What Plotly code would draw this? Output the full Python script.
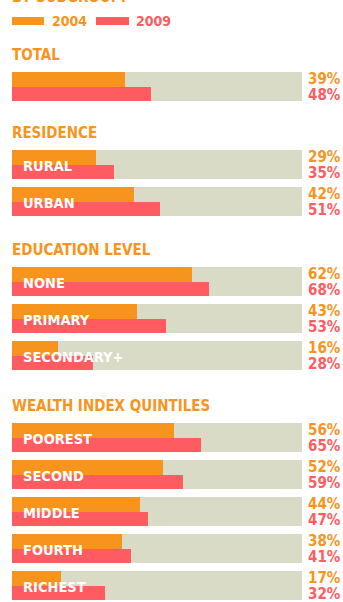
import plotly.graph_objects as go

# ---- data -------------------------------------------------------------
groups = ["TOTAL", "RESIDENCE", "EDUCATION LEVEL", "WEALTH INDEX QUINTILES"]
categories = [
    [""],
    ["RURAL", "URBAN"],
    ["NONE", "PRIMARY", "SECONDARY+"],
    ["POOREST", "SECOND", "MIDDLE", "FOURTH", "RICHEST"],
]
values_2004 = [[39], [29, 42], [62, 43, 16], [56, 52, 44, 38, 17]]
values_2009 = [[48], [35, 51], [68, 53, 28], [65, 59, 47, 41, 32]]
years = ["2004", "2009"]

# ---- style ------------------------------------------------------------
ORANGE = "#F7941D"
RED = "#FF5C61"
TRACK = "#DADBC6"
FONT = "DejaVu Sans Condensed, Liberation Sans Narrow, Arial Narrow, sans-serif"
W, H = 343, 602
X0, XSPAN = 12, 290          # pixel start of the 0% line and width of 100%
ROW_H, ROW_STEP = 29, 37     # track height and row pitch
HALF = ROW_H / 2
group_header_y = [55, 133, 250, 406]

def px_to_x(p):
    return (p - X0) / XSPAN * 100

# ---- layout of rows ---------------------------------------------------
rows = []  # (label, v04, v09, track_top)
for g, hy in enumerate(group_header_y):
    for i, cat in enumerate(categories[g]):
        top = hy + 17 + i * ROW_STEP
        rows.append((cat, values_2004[g][i], values_2009[g][i], top))

tops = [r[3] for r in rows]
v04 = [r[1] for r in rows]
v09 = [r[2] for r in rows]

fig = go.Figure()
fig.add_trace(go.Bar(
    orientation="h", x=[100] * len(rows), y=[t + HALF for t in tops],
    width=ROW_H, marker=dict(color=TRACK, line=dict(width=0)),
    hoverinfo="skip", showlegend=False))
fig.add_trace(go.Bar(
    orientation="h", x=v04, y=[t + HALF / 2 for t in tops],
    width=HALF, marker=dict(color=ORANGE, line=dict(width=0)),
    name=years[0], showlegend=False))
fig.add_trace(go.Bar(
    orientation="h", x=v09, y=[t + HALF * 1.5 for t in tops],
    width=HALF, marker=dict(color=RED, line=dict(width=0)),
    name=years[1], showlegend=False))

ann = []
shapes = []

# section headers
for g, hy in enumerate(group_header_y):
    ann.append(dict(x=10 / W, y=hy, xref="paper", yref="y", text=f"<b>{groups[g]}</b>",
                    xanchor="left", yanchor="middle", showarrow=False,
                    font=dict(family=FONT, size=15, color=ORANGE)))

# row labels and value labels (value boxes kept compact so the pair stacks tightly)
for cat, a, b, top in rows:
    if cat:
        ann.append(dict(x=21 / W, y=top + 16, xref="paper", yref="y", text=f"<b>{cat}</b>",
                        xanchor="left", yanchor="middle", showarrow=False,
                        font=dict(family=FONT, size=14.5, color="white")))
    for val, dy, col in [(a, 7, ORANGE), (b, 23, RED)]:
        ann.append(dict(x=1, y=top + dy, xref="paper", yref="y", text=f"<b>{val}%</b>",
                        xanchor="right", yanchor="middle", xshift=-1, showarrow=False,
                        height=14, borderpad=0, valign="middle",
                        font=dict(family=FONT, size=15, color=col)))

# legend swatches
for (x0, x1, tx, col, yr) in [(12, 44, 50, ORANGE, years[0]), (96, 129, 134, RED, years[1])]:
    shapes.append(dict(type="rect", xref="x", yref="y", x0=px_to_x(x0), x1=px_to_x(x1),
                       y0=17, y1=25, fillcolor=col, line=dict(width=0)))
    ann.append(dict(x=tx / W, y=21, xref="paper", yref="y", text=f"<b>{yr}</b>",
                    xanchor="left", yanchor="middle", showarrow=False,
                    font=dict(family=FONT, size=14, color=col)))

# chart title (runs above the top edge)
ann.append(dict(x=10 / W, y=8, xref="paper", yref="y", text="<b>BY SUBGROUP:</b>",
                xanchor="left", yanchor="bottom", showarrow=False,
                font=dict(family=FONT, size=15, color=ORANGE)))

fig.update_layout(
    width=W, height=H, margin=dict(l=0, r=0, t=0, b=0),
    paper_bgcolor="white", plot_bgcolor="white",
    barmode="overlay", bargap=0,
    xaxis=dict(range=[px_to_x(0), px_to_x(W)], visible=False, fixedrange=True),
    yaxis=dict(range=[H, 0], visible=False, fixedrange=True),
    annotations=ann, shapes=shapes, showlegend=False,
)
fig.write_html("out.html", config={"displayModeBar": False})
